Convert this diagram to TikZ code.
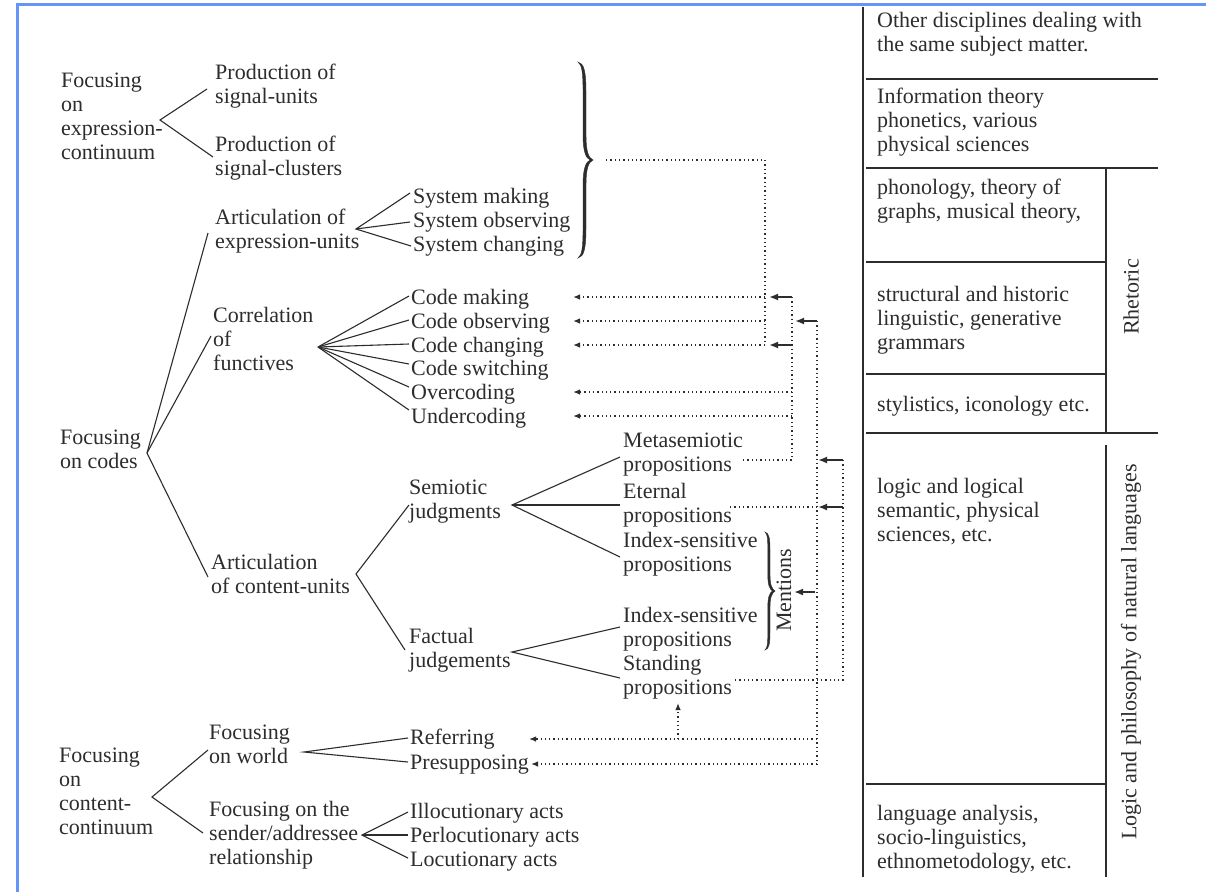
\documentclass[tikz,border=0pt]{standalone}
\usepackage{fontspec}
\setmainfont{Liberation Serif}
\usetikzlibrary{arrows.meta}
\definecolor{ink}{RGB}{45,45,45}
\definecolor{frameblue}{RGB}{100,150,245}
\begin{document}
\begin{tikzpicture}[x=1pt,y=-1pt,
  font=\fontsize{22}{24}\selectfont,
  lbl/.style={anchor=north west, inner sep=0pt, align=left, text=ink,
    execute at begin node=\strut, yshift=10pt},
  rot/.style={anchor=center, inner sep=0pt, text=ink, rotate=90},
  tree/.style={draw=ink, line width=1.1pt},
  rule/.style={draw=ink, line width=1.2pt},
  dotline/.style={draw=ink, line width=1.3pt, dash pattern=on 1.3pt off 3pt},
  dotarr/.style={dotline, -{Latex[length=7pt,width=5.5pt]}},
  solarr/.style={draw=ink, line width=2pt, -{Latex[length=9pt,width=7pt]}},
  bracefill/.style={fill=ink, draw=ink, line width=0.4pt}
]
\useasboundingbox (0,0) rectangle (1206,892);
\fill[white] (0,0) rectangle (1206,892);
% screenshot frame
\draw[frameblue, line width=3pt] (17,892) -- (17,4) -- (1206,4);

% ---------- expression continuum ----------
\node[lbl] (fec) at (61,83) {Focusing\\on\\expression-\\continuum};
\node[lbl] (psu) at (215,74) {Production of\\signal-units};
\node[lbl] (psc) at (215,146) {Production of\\signal-clusters};
\coordinate (v1) at (160,120);
\coordinate (e1a) at (207,89);
\coordinate (e1b) at (213,157);
\draw[tree] (e1a) -- (v1) -- (e1b);

% ---------- codes ----------
\node[lbl] (foc) at (60,440) {Focusing\\on codes};
\coordinate (v2) at (147,453);
\coordinate (e2a) at (208,233);
\coordinate (e2b) at (211,336);
\coordinate (e2c) at (208,577);
\draw[tree] (e2a) -- (v2) -- (e2c);
\draw[tree] (v2) -- (e2b);

\node[lbl] (aeu) at (215,219) {Articulation of\\expression-units};
\node[lbl] (sm) at (413,196) {System making};
\node[lbl] (so) at (413,220) {System observing};
\node[lbl] (sc) at (413,244) {System changing};
\coordinate (v3) at (356,229);
\coordinate (e3a) at (410,193);
\coordinate (e3b) at (410,222);
\coordinate (e3c) at (411,246);
\draw[tree] (e3a) -- (v3) -- (e3c);
\draw[tree] (v3) -- (e3b);

\node[lbl] (cof) at (213,317) {Correlation\\of\\functives};
\node[lbl] (cm) at (411,297) {Code making};
\node[lbl] (co) at (411,321) {Code observing};
\node[lbl] (cc) at (411,345) {Code changing};
\node[lbl] (cs) at (411,368) {Code switching};
\node[lbl] (oc) at (411,392) {Overcoding};
\node[lbl] (uc) at (411,416) {Undercoding};
\coordinate (v4) at (318,347);
\foreach \n/\yy in {a/296,b/320,c/344,d/364,e/387,f/410}{
  \coordinate (e4\n) at (409,\yy);
  \draw[tree] (v4) -- (e4\n);
}

\node[lbl] (acu) at (211,564) {Articulation\\of content-units};
\coordinate (v5) at (356,574);
\coordinate (e5a) at (409,505);
\coordinate (e5b) at (405,650);
\draw[tree] (e5a) -- (v5) -- (e5b);

\node[lbl] (sj) at (409,490) {Semiotic\\judgments};
\node[lbl] (fj) at (409,638) {Factual\\judgements};
\coordinate (v6) at (512,505);
\coordinate (e6a) at (620,457);
\coordinate (e6b) at (620,505);
\coordinate (e6c) at (620,557);
\draw[tree] (e6a) -- (v6) -- (e6c);
\draw[tree] (v6) -- (e6b);
\coordinate (v7) at (512,652);
\coordinate (e7a) at (620,627);
\coordinate (e7b) at (620,678);
\draw[tree] (e7a) -- (v7) -- (e7b);

\node[lbl] (mp) at (623,443) {Metasemiotic\\propositions};
\node[lbl] (ep) at (623,493) {Eternal\\propositions};
\node[lbl] (ip1) at (623,542) {Index-sensitive\\propositions};
\node[lbl] (ip2) at (623,617) {Index-sensitive\\propositions};
\node[lbl] (sp) at (623,665) {Standing\\propositions};

% ---------- content continuum ----------
\node[lbl] (fcc) at (59,758) {Focusing\\on\\content-\\continuum};
\coordinate (v8) at (152,797);
\coordinate (e8a) at (208,750);
\coordinate (e8b) at (203,833);
\draw[tree] (e8a) -- (v8) -- (e8b);
\node[lbl] (fw) at (209,735) {Focusing\\on world};
\node[lbl] (ref) at (410,737) {Referring};
\node[lbl] (pre) at (410,762) {Presupposing};
\coordinate (v9) at (304,752);
\coordinate (e9a) at (408,738);
\coordinate (e9b) at (408,762);
\draw[tree] (e9a) -- (v9) -- (e9b);
\node[lbl] (fsa) at (209,811) {Focusing on the\\sender/addressee\\relationship};
\node[lbl] (ill) at (410,811) {Illocutionary acts};
\node[lbl] (per) at (410,835) {Perlocutionary acts};
\node[lbl] (loc) at (410,859) {Locutionary acts};
\coordinate (v10) at (362,835);
\coordinate (e10a) at (408,812);
\coordinate (e10b) at (408,835);
\coordinate (e10c) at (408,858);
\draw[tree] (e10a) -- (v10) -- (e10c);
\draw[tree] (v10) -- (e10b);

% ---------- braces (typographic shape) ----------
\fill[bracefill] (578,62) .. controls (584,63) and (586,72) .. (586,92)
  -- (586,135) .. controls (586,150) and (588,158) .. (593,160)
  .. controls (588,162) and (586,170) .. (586,185)
  -- (586,228) .. controls (586,248) and (584,257) .. (578,258)
  .. controls (582,255) and (583,248) .. (583,228)
  -- (583,185) .. controls (583,168) and (586,162) .. (590,160)
  .. controls (586,158) and (583,152) .. (583,135)
  -- (583,92) .. controls (583,72) and (582,65) .. (578,62) -- cycle;
\fill[bracefill] (765,532) .. controls (769,533) and (770,538) .. (770,550)
  -- (770,575) .. controls (770,585) and (772,589) .. (775,591)
  .. controls (772,593) and (770,597) .. (770,607)
  -- (770,632) .. controls (770,644) and (769,649) .. (765,650)
  .. controls (767.5,648) and (767.8,643) .. (767.8,632)
  -- (767.8,607) .. controls (767.8,597) and (769.5,593) .. (772.5,591)
  .. controls (769.5,589) and (767.8,585) .. (767.8,575)
  -- (767.8,550) .. controls (767.8,539) and (767.5,534) .. (765,532) -- cycle;
\node[rot] (mn) at (784,590) {Mentions};

% ---------- dotted connectors ----------
\coordinate (bt) at (606,160);
\coordinate (k1) at (765,160);
\coordinate (k2) at (765,345);
\draw[dotline] (bt) -- (k1) -- (k2);
\foreach \n/\yy in {cm/297,co/321,cc/345,oc/392,uc/416}{
  \coordinate (t\n) at (573,\yy);
}
\coordinate (kcm) at (765,297);
\coordinate (kco) at (765,321);
\draw[dotarr] (kcm) -- (tcm);
\draw[dotarr] (kco) -- (tco);
\draw[dotarr] (k2) -- (tcc);

\coordinate (m1) at (792,297);
\coordinate (m2) at (792,345);
\coordinate (m3) at (792,392);
\coordinate (m4) at (792,416);
\coordinate (m5) at (792,460);
\coordinate (mpE) at (743,460);
\draw[dotline] (m1) -- (m5) -- (mpE);
\draw[dotarr] (m3) -- (toc);
\draw[dotarr] (m4) -- (tuc);
\coordinate (s1) at (769,297);
\coordinate (s2) at (769,345);
\draw[solarr] (m1) -- (s1);
\draw[solarr] (m2) -- (s2);

\coordinate (n1) at (817,321);
\coordinate (n2) at (817,507);
\coordinate (n3) at (817,739);
\coordinate (n4) at (817,764);
\coordinate (s3) at (795,321);
\coordinate (epE) at (730,507);
\coordinate (tref) at (529,739);
\coordinate (tpre) at (531,764);
\coordinate (u1) at (678,739);
\coordinate (u2) at (678,703);
\draw[dotline] (n1) -- (n4);
\draw[solarr] (n1) -- (s3);
\draw[dotline] (epE) -- (n2);
\draw[dotarr] (n3) -- (tref);
\draw[dotarr] (n4) -- (tpre);
\draw[dotarr] (u1) -- (u2);

\coordinate (q1) at (843,460);
\coordinate (q2) at (843,507);
\coordinate (q3) at (843,680);
\coordinate (r1) at (818,460);
\coordinate (r2) at (818,507);
\coordinate (spE) at (733,680);
\draw[dotline] (q1) -- (q3) -- (spE);
\draw[solarr] (q1) -- (r1);
\draw[solarr] (q2) -- (r2);
\coordinate (ma1) at (815,592);
\coordinate (ma2) at (794,592);
\draw[solarr] (ma1) -- (ma2);

% ---------- table ----------
\coordinate (L0) at (863,7);
\coordinate (L1) at (863,877);
\draw[rule] (L0) -- (L1);
\coordinate (R0) at (1106,168);
\coordinate (R1) at (1106,433);
\coordinate (R2) at (1106,445);
\coordinate (R3) at (1106,877);
\draw[rule] (R0) -- (R1);
\draw[rule] (R2) -- (R3);
\foreach \yy/\xe in {79/1158,168/1158,262/1106,374/1106,433/1158,784/1106}{
  \draw[rule] (866,\yy) -- (\xe,\yy);
}
\node[lbl] (od) at (877,22) {Other disciplines dealing with\\the same subject matter.};
\node[lbl] (itp) at (877,98) {Information theory\\phonetics, various\\physical sciences};
\node[lbl] (pho) at (877,189) {phonology, theory of\\graphs, musical theory,};
\node[lbl] (str) at (877,296) {structural and historic\\linguistic, generative\\grammars};
\node[lbl] (sty) at (877,404) {stylistics, iconology etc.};
\node[lbl] (lgc) at (877,488) {logic and logical\\semantic, physical\\sciences, etc.};
\node[lbl] (lan) at (877,815) {language analysis,\\socio-linguistics,\\ethnometodology, etc.};
\node[rot] (rh) at (1131,297) {Rhetoric};
\node[rot] (lp) at (1131,652) {Logic and philosophy of natural languages};
\end{tikzpicture}
\end{document}
